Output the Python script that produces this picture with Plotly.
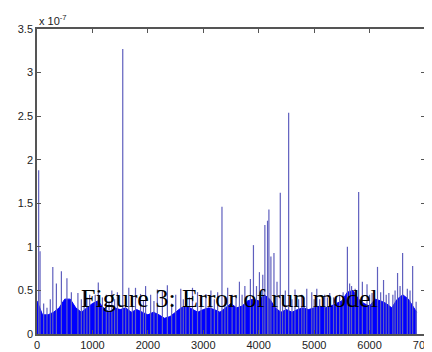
import plotly.graph_objects as go

# Dense error band: upper envelope (units of 1e-7) sampled every 100 samples
band_x = [0, 100, 200, 300, 400, 500, 600, 700, 800, 900,
          1000, 1100, 1200, 1300, 1400, 1500, 1600, 1700, 1800, 1900,
          2000, 2100, 2200, 2300, 2400, 2500, 2600, 2700, 2800, 2900,
          3000, 3100, 3200, 3300, 3400, 3500, 3600, 3700, 3800, 3900,
          4000, 4100, 4200, 4300, 4400, 4500, 4600, 4700, 4800, 4900,
          5000, 5100, 5200, 5300, 5400, 5500, 5600, 5700, 5800, 5900,
          6000, 6100, 6200, 6300, 6400, 6500, 6600, 6700, 6800, 6850]
band_y = [0.38, 0.22, 0.22, 0.25, 0.30, 0.40, 0.40, 0.30, 0.25, 0.30,
          0.35, 0.38, 0.30, 0.25, 0.30, 0.28, 0.30, 0.25, 0.28, 0.25,
          0.22, 0.25, 0.22, 0.18, 0.20, 0.25, 0.30, 0.32, 0.28, 0.25,
          0.28, 0.30, 0.28, 0.25, 0.30, 0.35, 0.30, 0.32, 0.38, 0.40,
          0.38, 0.45, 0.40, 0.30, 0.25, 0.28, 0.25, 0.28, 0.30, 0.28,
          0.30, 0.32, 0.30, 0.32, 0.35, 0.38, 0.48, 0.50, 0.40, 0.35,
          0.32, 0.40, 0.38, 0.35, 0.30, 0.40, 0.45, 0.40, 0.30, 0.25]

# Individual error spikes (sample index, error in 1e-7)
spike_x = [30, 55, 120, 180, 240, 285, 350, 440, 540, 620,
           738, 800, 850, 900, 950, 1050, 1106, 1180, 1250, 1300,
           1350, 1400, 1450, 1547, 1600, 1656, 1720, 1777, 1868, 1920,
           1959, 2050, 2110, 2171, 2262, 2352, 2430, 2503, 2594, 2640,
           2685, 2750, 2805, 2896, 2960, 3047, 3138, 3200, 3259, 3337,
           3390, 3440, 3520, 3591, 3652, 3700, 3750, 3850, 3905, 3960,
           4013, 4073, 4111, 4159, 4184, 4220, 4275, 4330, 4389, 4430,
           4480, 4540, 4600, 4655, 4720, 4776, 4820, 4867, 4957, 5000,
           5048, 5100, 5190, 5240, 5281, 5350, 5402, 5460, 5523, 5600,
           5640, 5675, 5740, 5803, 5870, 5954, 6000, 6045, 6143, 6200,
           6252, 6300, 6348, 6420, 6460, 6505, 6550, 6596, 6681, 6730,
           6777, 6840]
spike_y = [1.88, 0.95, 0.35, 0.30, 0.40, 0.77, 0.58, 0.72, 0.64, 0.48,
           0.47, 0.40, 0.50, 0.42, 0.45, 0.45, 0.59, 0.42, 0.45, 0.38,
           0.50, 0.40, 0.48, 3.27, 0.40, 0.53, 0.42, 0.53, 0.46, 0.38,
           0.55, 0.45, 0.38, 0.51, 0.50, 0.56, 0.35, 0.45, 0.52, 0.40,
           0.48, 0.42, 0.53, 0.48, 0.40, 0.46, 0.50, 0.40, 0.48, 1.46,
           0.42, 0.53, 0.45, 0.43, 0.60, 0.45, 0.55, 0.63, 1.02, 0.55,
           0.71, 0.68, 1.25, 1.30, 1.43, 0.89, 0.93, 0.60, 1.62, 0.45,
           0.50, 2.54, 0.40, 0.51, 0.40, 0.45, 0.42, 0.52, 0.48, 0.40,
           0.52, 0.40, 0.45, 0.42, 0.47, 0.42, 0.42, 0.45, 0.48, 1.00,
           0.58, 0.55, 0.52, 1.63, 0.60, 0.57, 0.45, 0.47, 0.77, 0.48,
           0.62, 0.45, 0.47, 0.45, 0.50, 0.70, 0.55, 0.93, 0.52, 0.50,
           0.78, 0.37]

x_ticks = [0, 1000, 2000, 3000, 4000, 5000, 6000, 7000]
y_ticks = [0, 0.5, 1, 1.5, 2, 2.5, 3, 3.5]
y_tick_text = ["0", "0.5", "1", "1.5", "2", "2.5", "3", "3.5"]

seg_x, seg_y = [], []
for sx, sy in zip(spike_x, spike_y):
    seg_x += [sx, sx, None]
    seg_y += [0, sy, None]

fig = go.Figure()
fig.add_trace(go.Scatter(x=band_x, y=band_y, mode="lines",
                         line=dict(color="rgb(0,0,255)", width=1),
                         fill="tozeroy", fillcolor="rgb(0,0,255)",
                         hoverinfo="skip", showlegend=False))
fig.add_trace(go.Scatter(x=seg_x, y=seg_y, mode="lines",
                         line=dict(color="rgb(95,95,190)", width=1.2),
                         hoverinfo="skip", showlegend=False))

axis_common = dict(showline=True, linecolor="#555555", linewidth=1.5,
                   mirror="ticks", ticks="inside", ticklen=4,
                   tickcolor="#555555", showgrid=False, zeroline=False,
                   automargin=False, ticklabeloverflow="allow",
                   tickfont=dict(family="Liberation Sans, Arial", size=11,
                                 color="#222222"))
fig.update_xaxes(range=[0, 7000], tickvals=x_ticks, **axis_common)
fig.update_yaxes(range=[0, 3.5], tickvals=y_ticks, ticktext=y_tick_text,
                 **axis_common)

fig.add_annotation(text="x 10<sup>-7</sup>", xref="paper", yref="paper",
                   x=0.0, y=1.0, xanchor="left", yanchor="bottom",
                   showarrow=False,
                   font=dict(family="Liberation Sans, Arial", size=11,
                             color="#222222"))
fig.add_annotation(text="Figure 3: Error of run model", xref="paper",
                   yref="paper", x=0.495, y=0.115, xanchor="center",
                   yanchor="middle", showarrow=False,
                   font=dict(family="Liberation Serif, Times New Roman",
                             size=26, color="black"))

# page body adds an 8px offset, so the figure is sized to fill the rest
fig.update_layout(width=424, height=344,
                  margin=dict(l=29, r=7, t=21, b=18),
                  paper_bgcolor="white", plot_bgcolor="white")

fig.write_html("out.html")
